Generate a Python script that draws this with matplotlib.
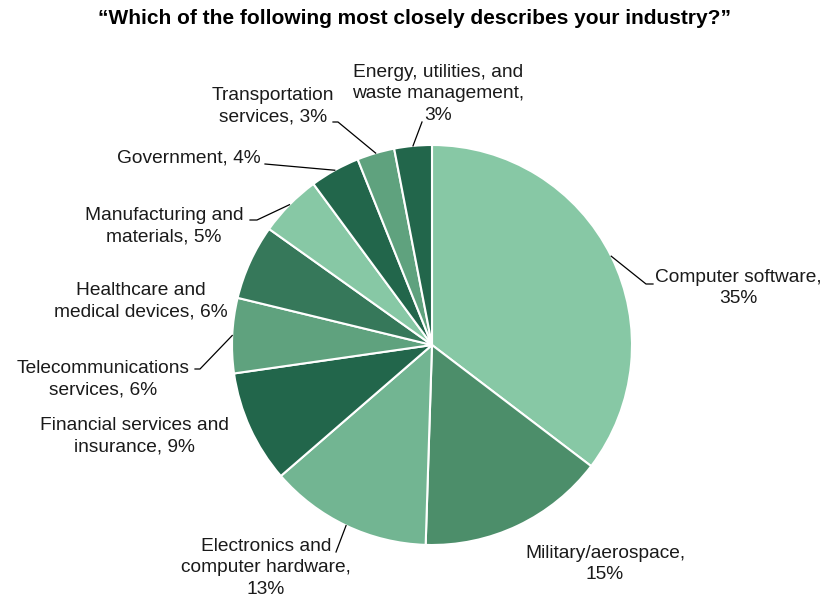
import numpy as np
import matplotlib
matplotlib.use("Agg")
import matplotlib.pyplot as plt

plt.rcParams['font.family'] = ['Liberation Sans', 'DejaVu Sans']

# Survey answers, clockwise from 12 o'clock
industries = [
    "Computer software",
    "Military/aerospace",
    "Electronics and\ncomputer hardware",
    "Financial services and\ninsurance",
    "Telecommunications\nservices",
    "Healthcare and\nmedical devices",
    "Manufacturing and\nmaterials",
    "Government",
    "Transportation\nservices",
    "Energy, utilities, and\nwaste management",
]
shares = [35, 15, 13, 9, 6, 6, 5, 4, 3, 3]
colors = ["#87C8A5", "#4C8E6A", "#72B592", "#22664B", "#5FA27E",
          "#36785A", "#87C8A5", "#22664B", "#5FA27E", "#22664B"]

# label text: how the name and percent are joined
label_fmt = [
    "{},\n{}%", "{},\n{}%", "{},\n{}%", "{}, {}%", "{}, {}%",
    "{}, {}%", "{}, {}%", "{}, {}%", "{}, {}%", "{},\n{}%",
]

W, H = 825, 600
CX, CY, R = 432, 345, 200


def px(x, y):
    """Pixel position -> pie data coordinates (radius 1)."""
    return ((x - CX) / R, (CY - y) / R)


# label block centres and leader paths (after the wedge anchor)
label_pos = [px(738, 288), px(605, 564), px(266, 568), px(134, 436),
             px(103, 379), px(141, 301), px(164, 226), px(189, 158),
             px(273, 106), px(438, 94)]
leaders = [
    [px(646, 284), px(653, 284)],
    None,
    [px(336, 552)],
    None,
    [px(200, 369), px(195, 369)],
    None,
    [px(257, 220), px(250, 220)],
    [px(265, 164)],
    [px(338, 122), px(333, 122)],
    [px(422, 122)],
]

fig = plt.figure(figsize=(W / 100, H / 100), dpi=100)
ax = fig.add_axes([(CX - R) / W, (H - CY - R) / H, 2 * R / W, 2 * R / H])

wedges, _ = ax.pie(shares, colors=colors, startangle=90, counterclock=False,
                   radius=1, wedgeprops=dict(edgecolor="white", linewidth=1.5))
ax.set_xlim(-1, 1)
ax.set_ylim(-1, 1)
ax.set_aspect("equal")
ax.axis("off")

for w, name, val, fmt, pos, path in zip(wedges, industries, shares, label_fmt,
                                        label_pos, leaders):
    ax.text(pos[0], pos[1], fmt.format(name, val), ha="center", va="center",
            fontsize=13.8, color="#1a1a1a", linespacing=1.33, clip_on=False)
    if path:
        mid = np.deg2rad((w.theta1 + w.theta2) / 2)
        pts = [(np.cos(mid), np.sin(mid))] + path
        xs, ys = zip(*pts)
        ax.plot(xs, ys, color="black", lw=0.9, clip_on=False)

fig.text(415 / W, 1 - 18 / H,
         "\u201cWhich of the following most closely describes your industry?\u201d",
         ha="center", va="center", fontsize=15, fontweight="bold")

fig.savefig("out.png", dpi=100, facecolor="white")
